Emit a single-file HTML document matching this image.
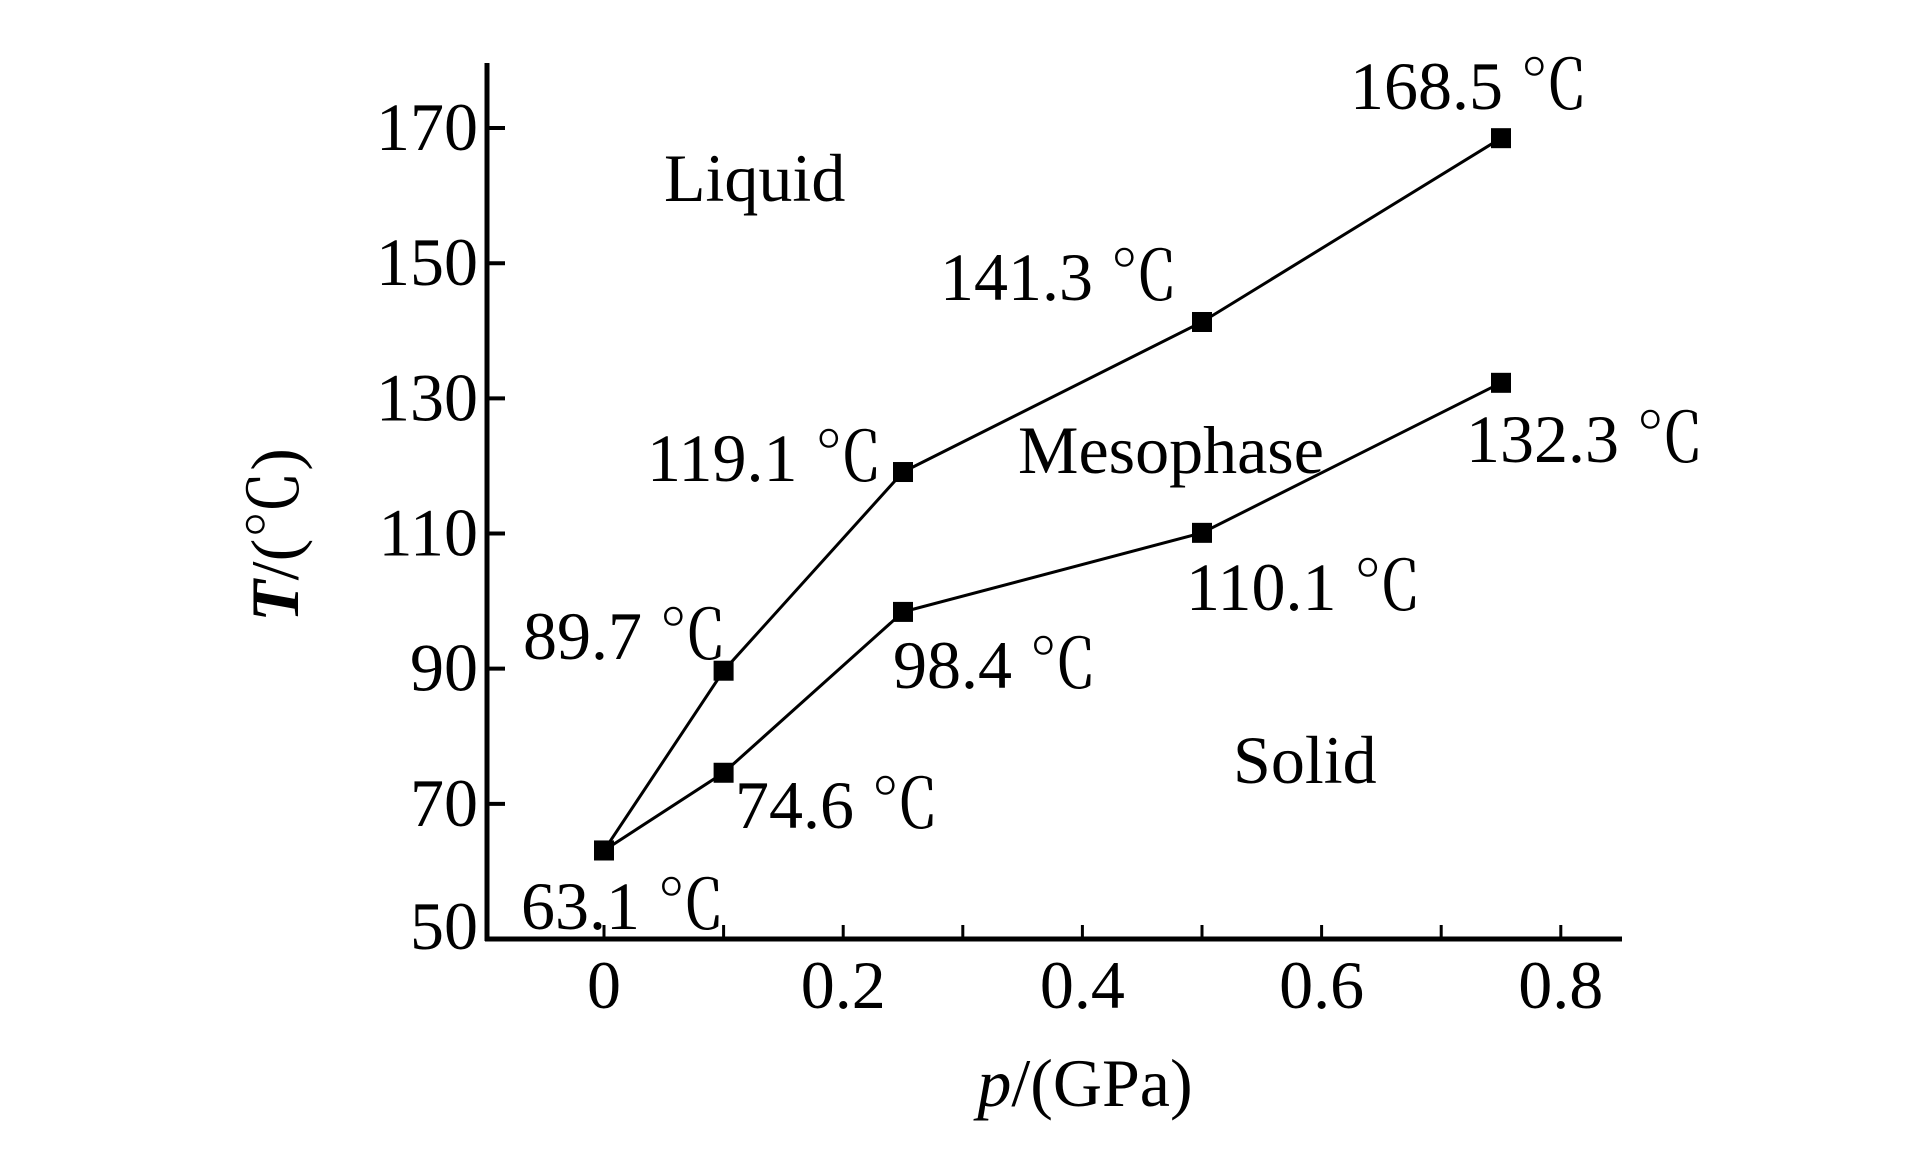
<!DOCTYPE html>
<html><head><meta charset="utf-8"><style>
html,body{margin:0;padding:0;background:#fff}
svg text{font-family:"Liberation Serif","Noto Serif CJK SC",serif;fill:#000}
</style></head><body>
<svg id="chart" width="1923" height="1169" viewBox="0 0 1923 1169" xmlns="http://www.w3.org/2000/svg">
<g id="g"></g>
</svg>
<script>
const xTicks=[0,0.1,0.2,0.3,0.4,0.5,0.6,0.7,0.8];
const xTickLabels=["0","0.2","0.4","0.6","0.8"];
const xLabelVals=[0,0.2,0.4,0.6,0.8];
const yTicks=[50,70,90,110,130,150,170];
const pressures=[0,0.1,0.25,0.5,0.75];
const upperT=[63.1,89.7,119.1,141.3,168.5];
const lowerT=[63.1,74.6,98.4,110.1,132.3];
const upperLabels=["63.1 ℃","89.7 ℃","119.1 ℃","141.3 ℃","168.5 ℃"];
const lowerLabels=["","74.6 ℃","98.4 ℃","110.1 ℃","132.3 ℃"];

const X0=604, XS=1196;
const Y0=939, YS=6.758, YMIN=50;
const xs=v=>X0+v*XS;
const ys=v=>Y0-(v-YMIN)*YS;
const NS="http://www.w3.org/2000/svg";
const g=document.getElementById('g');
function mk(t,a,txt){const e=document.createElementNS(NS,t);for(const k in a)e.setAttribute(k,a[k]);if(txt!==undefined)e.textContent=txt;g.appendChild(e);return e;}
const FS=68;
let e;
e=mk('line',{x1:487,y1:63,x2:487,y2:941,stroke:'#000','stroke-width':5});


e=mk('line',{x1:485,y1:939,x2:1622,y2:939,stroke:'#000','stroke-width':5});



xTicks.forEach(v=>{
  e=mk('line',{x1:xs(v),y1:939,x2:xs(v),y2:925,stroke:'#000','stroke-width':3});
  
  
});
xLabelVals.forEach((v,i)=>{
  e=mk('text',{x:xs(v),y:1008,'font-size':FS,'text-anchor':'middle'},xTickLabels[i]);
  
  
});
yTicks.forEach(v=>{
  if(v>YMIN){
    e=mk('line',{x1:487,y1:ys(v),x2:505,y2:ys(v),stroke:'#000','stroke-width':4});
    
    
  }
  e=mk('text',{x:478,y:ys(v)+(v===YMIN?10:22),'font-size':FS,'text-anchor':'end'},String(v));
  
  
});

function series(vals,name){
  const pts=pressures.map((p,i)=>xs(p)+','+ys(vals[i])).join(' ');
  e=mk('polyline',{points:pts,fill:'none',stroke:'#000','stroke-width':3});
  
  
  pressures.forEach((p,i)=>{
    e=mk('rect',{x:xs(p)-10,y:ys(vals[i])-10,width:20,height:20,fill:'#000'});
    
    
  });
}
series(upperT,'upper-boundary');
series(lowerT,'lower-boundary');

// label anchor positions (left x, baseline y) — layout only
const upPos=[[521,929],[523,659],[647,481],[940,300],[1350,109]];
const loPos=[null,[735,828],[893,688],[1186,610],[1466,462]];
pressures.forEach((p,i)=>{
  e=mk('text',{x:upPos[i][0],y:upPos[i][1],'font-size':FS},upperLabels[i]);
  
  
  if(lowerLabels[i]){
    e=mk('text',{x:loPos[i][0],y:loPos[i][1],'font-size':FS},lowerLabels[i]);
    
    
  }
});

e=mk('text',{x:664,y:201,'font-size':FS},'Liquid');


e=mk('text',{x:1018,y:473,'font-size':FS},'Mesophase');


e=mk('text',{x:1233,y:783,'font-size':FS},'Solid');



e=mk('text',{x:1085,y:1106,'font-size':FS,'text-anchor':'middle'});
e.innerHTML='<tspan font-style="italic">p</tspan>/(GPa)';


e=mk('text',{x:0,y:0,'font-size':FS,'text-anchor':'middle',transform:'translate(298,535) rotate(-90)'});
e.innerHTML='<tspan font-style="italic" font-weight="bold">T</tspan>/(℃)';


</script>
</body></html>
